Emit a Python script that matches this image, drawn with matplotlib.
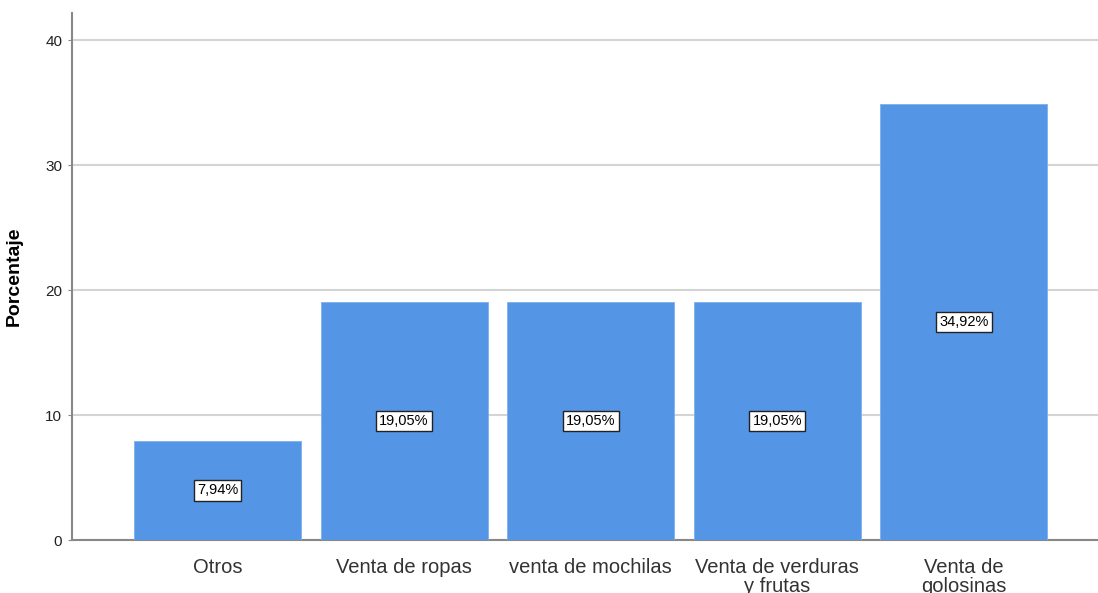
import matplotlib
matplotlib.use("Agg")
import matplotlib.pyplot as plt

categories = ["Otros", "Venta de ropas", "venta de mochilas",
              "Venta de verduras\ny frutas", "Venta de\ngolosinas"]
values = [7.94, 19.05, 19.05, 19.05, 34.92]
value_labels = ["7,94%", "19,05%", "19,05%", "19,05%", "34,92%"]
yticks = [0, 10, 20, 30, 40]

plt.rcParams['font.family'] = ['Liberation Sans', 'DejaVu Sans']

fig = plt.figure(figsize=(10.98, 5.93), dpi=100)
ax = fig.add_axes([72/1098, 53/593, 1 - 72/1098, (540-13)/593])

x = list(range(len(categories)))
ax.bar(x, values, width=0.895, color="#5595E5", edgecolor="#7DB0EE", linewidth=0.6, zorder=3)

for xi, v, lab in zip(x, values, value_labels):
    ax.text(xi, v/2, lab, ha="center", va="center", fontsize=10.5, color="black", zorder=4,
            bbox=dict(boxstyle="square,pad=0.22", fc="white", ec="#222222", lw=1.0))

ax.set_xlim(-0.78, 4.72)
ax.set_ylim(0, 42.2)
ax.set_yticks(yticks)
ax.set_yticklabels([str(t) for t in yticks], fontsize=11, color="#222222")
ax.set_xticks(x)
ax.set_xticklabels(categories, fontsize=14.5, linespacing=1.02, color="#333333")
ax.tick_params(axis="x", length=0, pad=13)
ax.tick_params(axis="y", length=3, color="#888888", pad=4)
ax.yaxis.grid(True, color="#D4D4D4", linewidth=1.5, zorder=0)
ax.set_axisbelow(True)
for s in ["top", "right"]:
    ax.spines[s].set_visible(False)
ax.spines["left"].set_color("#888888")
ax.spines["bottom"].set_color("#888888")
ax.spines["left"].set_linewidth(1.5)
ax.spines["bottom"].set_linewidth(1.5)
ax.set_ylabel("Porcentaje", fontsize=14, fontweight="bold", labelpad=16)

fig.savefig("out.png", dpi=100)
